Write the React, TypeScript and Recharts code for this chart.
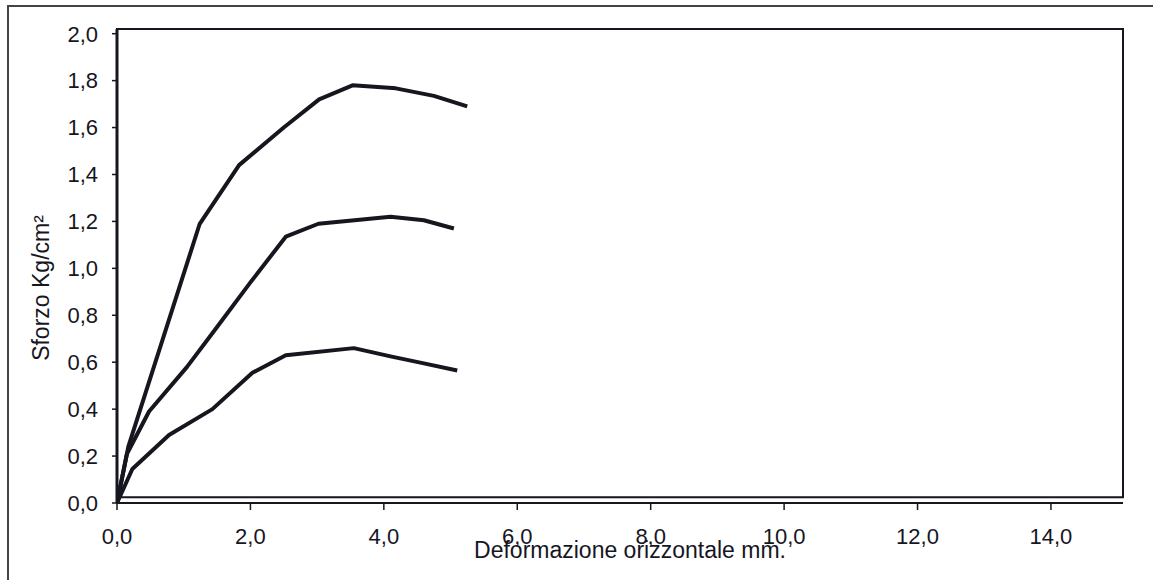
import { LineChart, Line, XAxis, YAxis, ReferenceArea } from 'recharts'

// deformazione (mm) / sforzo (Kg/cm²) for the three tests
const defA = [0, 0.17, 1.24, 1.83, 2.5, 3.03, 3.53, 4.18, 4.75, 5.25]
const stressA = [0, 0.24, 1.19, 1.44, 1.6, 1.72, 1.78, 1.767, 1.735, 1.69]

const defB = [0, 0.15, 0.48, 1.05, 1.5, 2.0, 2.53, 3.02, 4.1, 4.6, 5.05]
const stressB = [0, 0.21, 0.39, 0.58, 0.75, 0.94, 1.135, 1.19, 1.22, 1.205, 1.17]

const defC = [0, 0.23, 0.78, 1.43, 2.03, 2.53, 3.55, 4.1, 4.6, 5.1]
const stressC = [0, 0.145, 0.29, 0.4, 0.555, 0.63, 0.66, 0.625, 0.595, 0.565]

const xTicks = [0, 2, 4, 6, 8, 10, 12, 14]
const yTicks = [0, 0.2, 0.4, 0.6, 0.8, 1.0, 1.2, 1.4, 1.6, 1.8, 2.0]

const xTitle = 'Deformazione orizzontale mm.'
const yTitle = 'Sforzo Kg/cm²'

const toRows = (xs: number[], ys: number[]) => xs.map((x, i) => ({ x, y: ys[i] }))
const series = [toRows(defA, stressA), toRows(defB, stressB), toRows(defC, stressC)]

const fmt = (v: number) => v.toFixed(1).replace('.', ',')
const FONT = '"Liberation Sans", Arial, sans-serif'
const INK = '#16161f'

export default function App() {
  return (
    <div style={{ position: 'absolute', left: 0, top: 0, width: 1153, height: 580, overflow: 'hidden', background: '#fff', fontFamily: FONT }}>
      {/* scanned page frame, only top and left edges visible */}
      <div style={{ position: 'absolute', left: 7, top: 5, width: 1300, height: 700, border: '2px solid #444' }} />
      <div style={{ position: 'absolute', left: 0, top: 0 }}>
        <LineChart width={1153} height={580} margin={{ top: 29, right: 30, bottom: 0, left: 10 }}>
          <XAxis
            type="number"
            dataKey="x"
            domain={[0, 15.08]}
            ticks={xTicks}
            tickFormatter={fmt}
            height={77}
            tickSize={7}
            tickMargin={18}
            allowDataOverflow
            axisLine={{ stroke: INK, strokeWidth: 2 }}
            tickLine={{ stroke: INK, strokeWidth: 1.5 }}
            tick={{ fill: INK, fontSize: 22, fontFamily: FONT }}
            label={{
              content: () => (
                <text x={630} y={558} textAnchor="middle" fill={INK} fontSize={23} fontFamily={FONT}>
                  {xTitle}
                </text>
              ),
            }}
          />
          <YAxis
            type="number"
            domain={[0, 2.02]}
            ticks={yTicks}
            tickFormatter={fmt}
            width={107}
            tickSize={5}
            tickMargin={14}
            allowDataOverflow
            axisLine={{ stroke: INK, strokeWidth: 3 }}
            tickLine={{ stroke: INK, strokeWidth: 1.5 }}
            tick={{ fill: INK, fontSize: 22, fontFamily: FONT }}
            label={{
              content: () => (
                <text
                  x={41}
                  y={288}
                  transform="rotate(-90 41 288)"
                  textAnchor="middle"
                  dominantBaseline="central"
                  fill={INK}
                  fontSize={23}
                  fontFamily={FONT}
                >
                  {yTitle}
                </text>
              ),
            }}
          />
          <ReferenceArea x1={0} x2={15.08} y1={0.025} y2={2.02} stroke={INK} strokeWidth={2} fill="none" fillOpacity={0} />
          {series.map((d, i) => (
            <Line
              key={i}
              data={d}
              dataKey="y"
              type="linear"
              stroke={INK}
              strokeWidth={4}
              strokeLinejoin="round"
              dot={false}
              activeDot={false}
              isAnimationActive={false}
            />
          ))}
        </LineChart>
      </div>
    </div>
  )
}
